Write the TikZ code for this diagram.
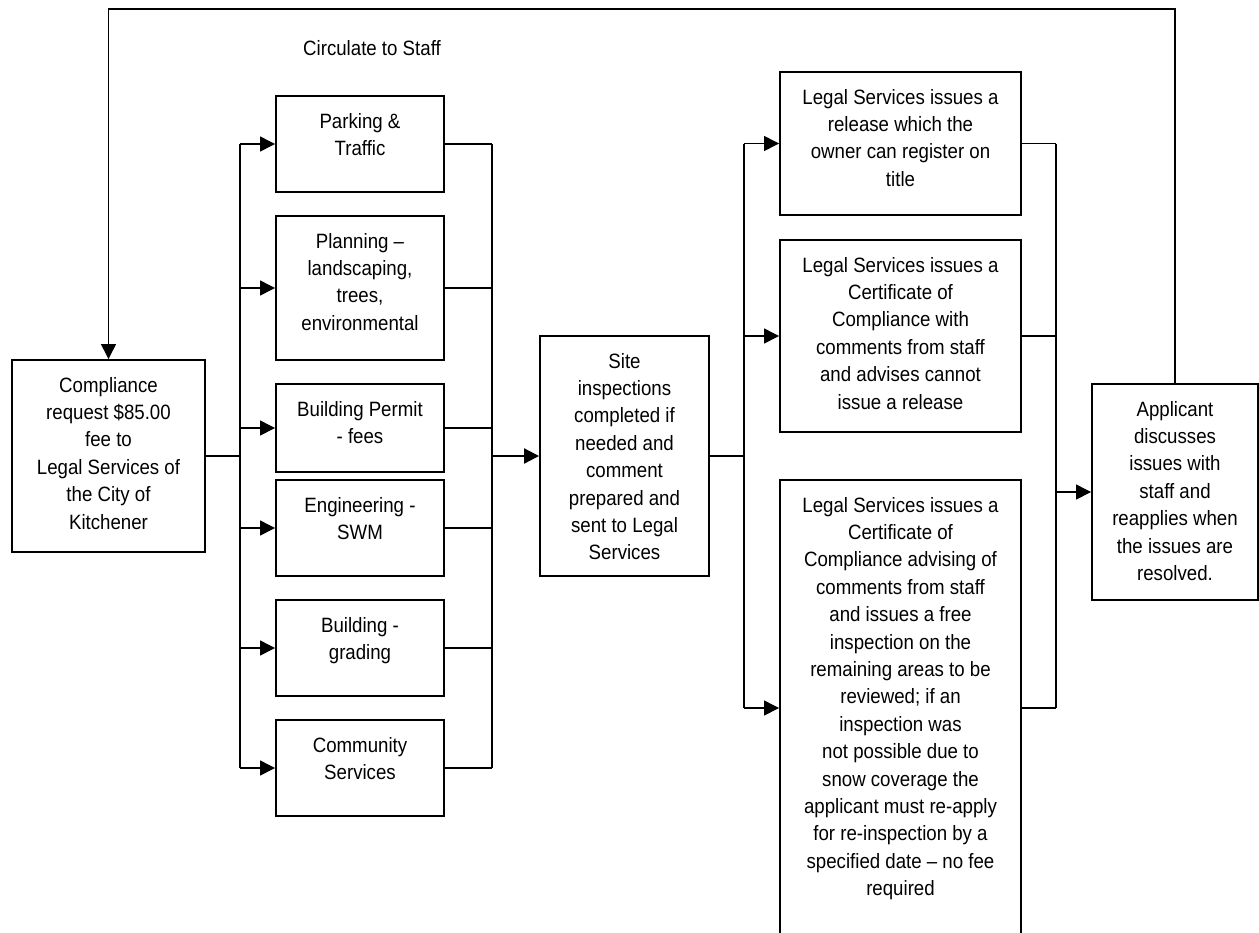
\documentclass[tikz,border=0pt]{standalone}
\usepackage{fontspec}
\setmainfont[FakeStretch=0.9]{Liberation Sans}
\usetikzlibrary{arrows.meta}

\begin{document}
\begin{tikzpicture}[x=0.2mm,y=-0.2mm,
  lbl/.style={font=\fontsize{11.8pt}{15.6pt}\selectfont},
  box/.style={lbl, draw, line width=1.1pt, inner sep=0pt, align=flush center, text height=6.4mm},
  dept/.style={box, text width=33.6mm},
  legal/.style={box, text width=48.2mm},
  wire/.style={line width=0.8pt},
  flow/.style={line width=1.2pt},
  tip/.style={-{Triangle[length=3mm,width=3mm]}}]
  \useasboundingbox (0,0) rectangle (1259,932);

  \node[lbl] (circ) at (372,48) {Circulate to Staff};

  \path (108.5,456) node (comp) [box, text width=38.6mm, text depth=32mm]
    {Compliance\\request \$85.00\\fee to\\Legal Services of\\the City of\\Kitchener};

  % departments
  \path (360,144) node (park) [dept, text depth=12.8mm] {Parking \&\\Traffic};
  \path (360,288) node (plan) [dept, text depth=22.4mm] {Planning –\\landscaping,\\trees,\\environmental};
  \path (360,428) node (bp)   [dept, text depth=11.2mm] {Building Permit\\- fees};
  \path (360,528) node (eng)  [dept, text depth=12.8mm] {Engineering -\\SWM};
  \path (360,648) node (grad) [dept, text depth=12.8mm] {Building -\\grading};
  \path (360,768) node (comm) [dept, text depth=12.8mm] {Community\\Services};

  \path (624.5,456) node (site) [box, text width=33.8mm, text depth=41.6mm]
    {Site\\inspections\\completed if\\needed and\\comment\\prepared and\\sent to Legal\\Services};

  % outcomes
  \path (900.5,143.5) node (rel) [legal, text depth=22.2mm]
    {Legal Services issues a\\release which the\\owner can register on\\title};
  \path (900.5,336) node (cert) [legal, text depth=32mm]
    {Legal Services issues a\\Certificate of\\Compliance with\\comments from staff\\and advises cannot\\issue a release};
  \path (900.5,708) node (big) [legal, text depth=84.8mm]
    {Legal Services issues a\\Certificate of\\Compliance advising of\\comments from staff\\and issues a free\\inspection on the\\remaining areas to be\\reviewed; if an\\inspection was\\not possible due to\\snow coverage the\\applicant must re-apply\\for re-inspection by a\\specified date – no fee\\required};

  \path (1175,492) node (appl) [box, text width=33.2mm, text depth=36.8mm]
    {Applicant\\discusses\\issues with\\staff and\\reapplies when\\the issues are\\resolved.};

  \coordinate (top) at (0,9);
  \coordinate (lbus) at (240,456);
  \coordinate (rbus) at (492,456);
  \coordinate (obus) at (744,456);
  \coordinate (fbus) at (1056,492);

  \draw[wire, tip] (appl.north) |- (comp.north |- top) -- (comp.north);

  \draw[flow] (comp.east) -- (lbus);
  \draw[wire] (lbus |- park) -- (lbus |- comm);
  \draw[wire] (rbus |- park) -- (rbus |- comm);
  \foreach \n in {park,plan,bp,eng,grad,comm} {
    \draw[wire, tip] (lbus |- \n) -- (\n.west);
    \draw[wire] (\n.east) -- (rbus |- \n);
  }
  \draw[flow, tip] (rbus) -- (site.west);

  \draw[flow] (site.east) -- (obus);
  \draw[wire] (obus |- rel) -- (obus |- big);
  \draw[wire] (fbus |- rel) -- (fbus |- big);
  \foreach \n in {rel,cert,big} {
    \draw[wire, tip] (obus |- \n) -- (\n.west);
    \draw[wire] (\n.east) -- (fbus |- \n);
  }
  \draw[wire, tip] (fbus) -- (appl.west);
\end{tikzpicture}
\end{document}
